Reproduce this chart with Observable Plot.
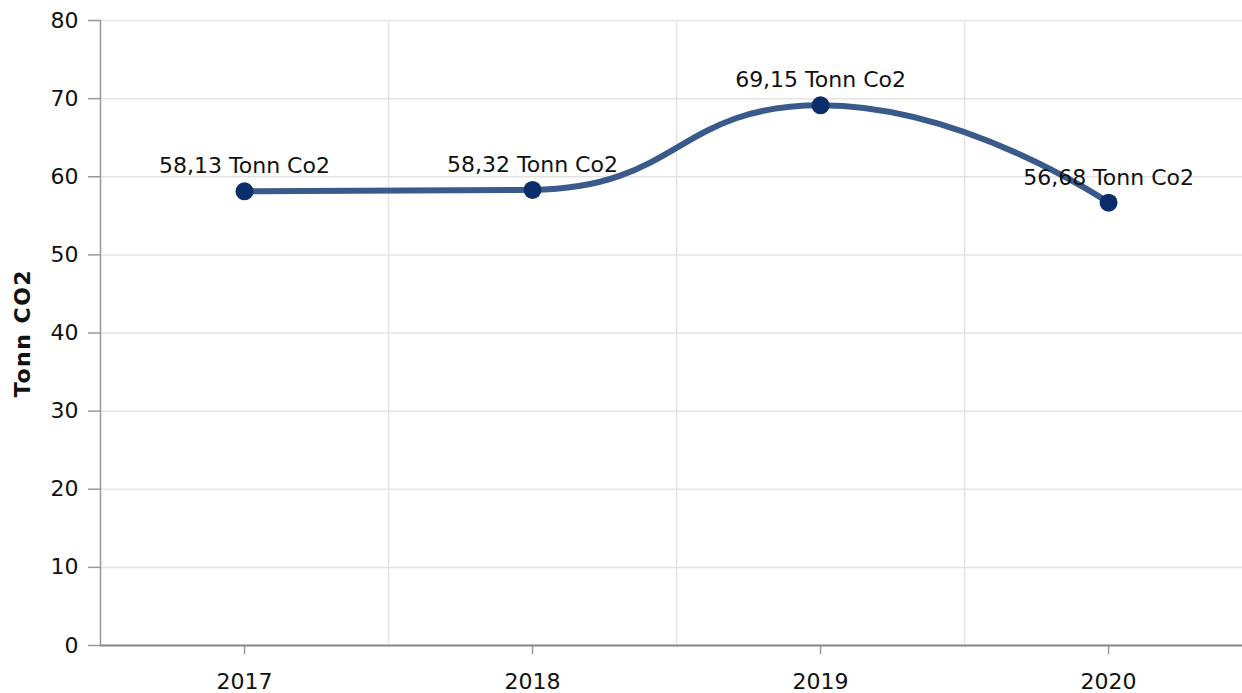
<!DOCTYPE html>
<html>
<head>
<meta charset="utf-8">
<script src="https://cdn.jsdelivr.net/npm/d3@7"></script>
<script src="https://cdn.jsdelivr.net/npm/@observablehq/plot@0.6"></script>
<style>
  html, body { margin: 0; padding: 0; background: #fff; }
  #chart svg { display: block; }
</style>
</head>
<body>
<div id="chart"></div>
<script>
const years = [2017, 2018, 2019, 2020];
const values = [58.13, 58.32, 69.15, 56.68];
const labels = ["58,13 Tonn Co2", "58,32 Tonn Co2", "69,15 Tonn Co2", "56,68 Tonn Co2"];
const yTicks = [0, 10, 20, 30, 40, 50, 60, 70, 80];
const yLabel = "Tonn CO2";

const data = years.map((y, i) => ({year: y, value: values[i], label: labels[i]}));
const boundaries = years.slice(0, -1).map(y => y + 0.5);

const font = "DejaVu Sans, Verdana, sans-serif";

// Smooth curve with control points clamped between neighbours (no overshoot)
class ClampedSmooth {
  constructor(context, smooth) { this._context = context; this._smooth = smooth; }
  areaStart() { this._line = 0; }
  areaEnd() { this._line = NaN; }
  lineStart() { this._pts = []; }
  point(x, y) { this._pts.push([+x, +y]); }
  lineEnd() {
    const ctx = this._context, p = this._pts, s = this._smooth;
    const min = Math.min, max = Math.max;
    let prevX, prevY, cpx0, cpy0, cpx1, cpy1;
    for (let k = 0; k < p.length; k++) {
      const [x, y] = p[k];
      if (k === 0) {
        if (this._line) ctx.lineTo(x, y); else ctx.moveTo(x, y);
        cpx0 = x; cpy0 = y;
      } else {
        let nextCpx0, nextCpy0;
        if (k + 1 >= p.length) {
          cpx1 = x; cpy1 = y;
        } else {
          const [nextX, nextY] = p[k + 1];
          let vx = nextX - prevX, vy = nextY - prevY;
          const dx0 = x - prevX, dy0 = y - prevY, dx1 = nextX - x, dy1 = nextY - y;
          const lenPrev = Math.hypot(dx0, dy0), lenNext = Math.hypot(dx1, dy1);
          const ratio = lenNext / (lenNext + lenPrev);
          nextCpx0 = x + vx * s * ratio;
          nextCpy0 = y + vy * s * ratio;
          nextCpx0 = max(min(nextCpx0, max(nextX, x)), min(nextX, x));
          nextCpy0 = max(min(nextCpy0, max(nextY, y)), min(nextY, y));
          vx = nextCpx0 - x; vy = nextCpy0 - y;
          cpx1 = x - vx * lenPrev / lenNext;
          cpy1 = y - vy * lenPrev / lenNext;
          cpx1 = max(min(cpx1, max(prevX, x)), min(prevX, x));
          cpy1 = max(min(cpy1, max(prevY, y)), min(prevY, y));
          vx = x - cpx1; vy = y - cpy1;
          nextCpx0 = x + vx * lenNext / lenPrev;
          nextCpy0 = y + vy * lenNext / lenPrev;
        }
        ctx.bezierCurveTo(cpx0, cpy0, cpx1, cpy1, x, y);
        cpx0 = nextCpx0; cpy0 = nextCpy0;
      }
      prevX = x; prevY = y;
    }
    this._line = 1 - this._line;
  }
}
const smoothCurve = (context) => new ClampedSmooth(context, 0.5);

const chart = Plot.plot({
  width: 1242,
  height: 693,
  marginLeft: 100,
  marginRight: 0,
  marginTop: 20,
  marginBottom: 48,
  style: {fontFamily: font, fontSize: "22px", color: "#111", background: "#fff"},
  x: {type: "linear", domain: [years[0] - 0.5, years[years.length - 1] + 0.465]},
  y: {domain: [0, 80]},
  marks: [
    Plot.gridY(yTicks, {stroke: "#e3e3e3", strokeOpacity: 1, strokeWidth: 1.5}),
    Plot.gridX(boundaries, {stroke: "#e3e3e3", strokeOpacity: 1, strokeWidth: 1.5}),
    Plot.axisY(yTicks, {tickSize: 12, tickPadding: 10, stroke: "#999", strokeWidth: 1.5,
      label: yLabel, labelAnchor: "center", labelArrow: "none", labelOffset: 86,
      fontSize: 22, fill: "#111"}),
    Plot.axisX(years, {tickSize: 9, tickPadding: 19, stroke: "#999", strokeWidth: 1.5,
      tickFormat: d => String(d), label: null, fontSize: 22, fill: "#111"}),
    Plot.ruleX([years[0] - 0.5], {stroke: "#999", strokeWidth: 1.5}),
    Plot.ruleY([0], {stroke: "#888", strokeWidth: 2}),
    Plot.line(data, {x: "year", y: "value", curve: smoothCurve, stroke: "#3a5a8c", strokeWidth: 6}),
    Plot.dot(data, {x: "year", y: "value", r: 9, fill: "#0b2d6b", stroke: "none"}),
    Plot.text(data, {x: "year", y: "value", text: "label", dy: -25, fontSize: 22, fill: "#111"})
  ]
});

chart.querySelectorAll("g[aria-label='y-axis label'] text").forEach(t => {
  t.setAttribute("font-weight", "bold");
  t.setAttribute("letter-spacing", "1.5");
});
document.getElementById("chart").appendChild(chart);
</script>
</body>
</html>
